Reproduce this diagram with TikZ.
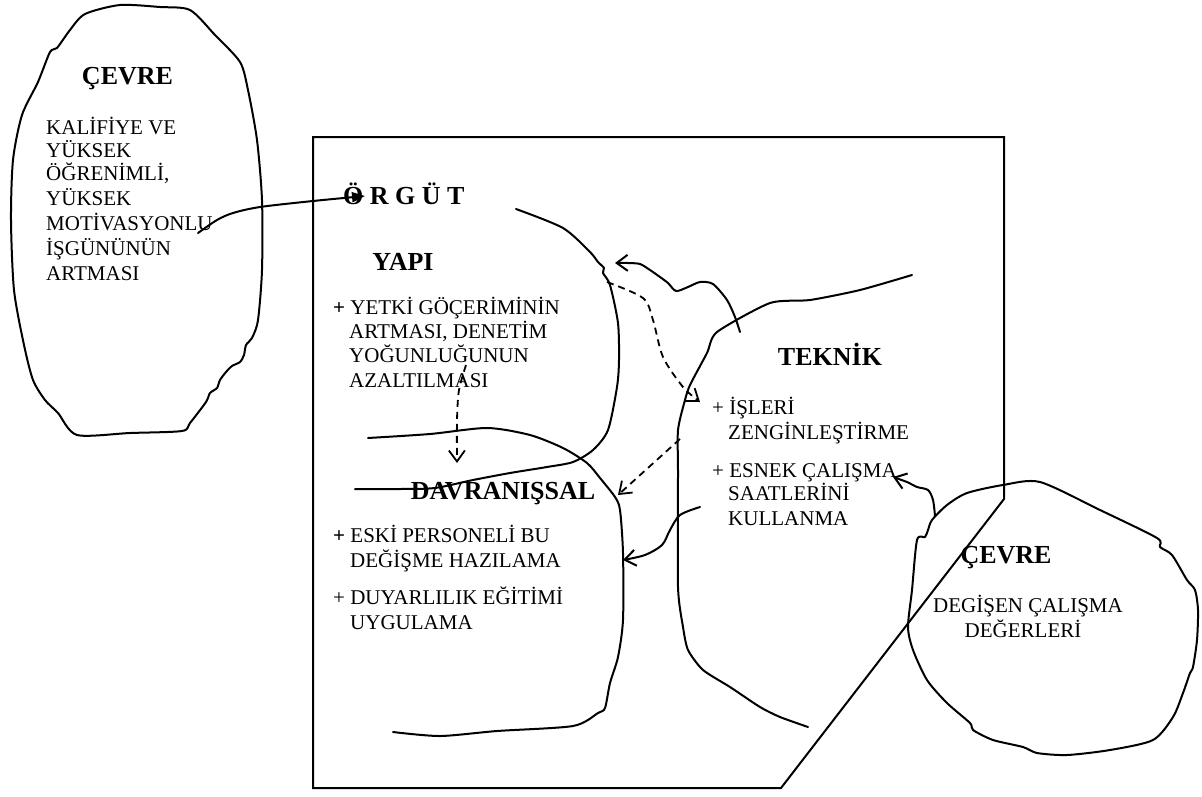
\documentclass[tikz,border=0pt]{standalone}
\usepackage{fontspec}
\setmainfont{Liberation Serif}
\usetikzlibrary{arrows.meta}
\begin{document}
\begin{tikzpicture}[x=1pt,y=-1pt,
  line/.style={line width=2pt, line join=round, line cap=round},
  dline/.style={line width=1.8pt, dash pattern=on 7pt off 5pt},
  barb/.style={-{Straight Barb[length=11pt,width=16pt]}},
  tri/.style={-{Triangle[length=13pt,width=10pt]}},
  body/.style={font=\fontsize{21}{24}\selectfont, inner sep=0pt, anchor=base west},
  title/.style={font=\fontsize{26}{30}\selectfont\bfseries, inner sep=0pt, anchor=base}]

\path[use as bounding box] (0,0) rectangle (1202,796);

% organisation frame
\draw[line, line cap=butt, line join=miter]
  (313,137) -- (1004,137) -- (1004,499) -- (781,788) -- (313,788) -- cycle;

% outer environment, left
\draw[line] plot[smooth cycle, tension=0.45] coordinates {
  (120,5) (160,7) (190,10) (215,35) (240,62) (248,90) (257,140) (262,200)
  (262,270) (258,320) (252,338) (246,345) (244,355) (240,362) (232,366)
  (226,372) (220,380) (217,388) (210,393) (206,402) (190,423) (182,431)
  (130,433) (77,435) (58,413) (45,400) (33,380) (24,345) (14,290) (11,220)
  (13,160) (22,115) (38,82) (50,52) (57,48) (70,30) (85,14)};

% outer environment, right
\draw[line] plot[smooth cycle, tension=0.45] coordinates {
  (1003,485) (1040,482) (1100,510) (1157,538) (1160,547) (1172,555)
  (1187,580) (1195,590) (1198,610) (1197,640) (1193,667) (1190,673)
  (1183,693) (1173,717) (1153,740) (1110,750) (1067,755) (1037,753)
  (1023,747) (993,740) (973,730) (970,723) (947,703) (927,680) (913,650)
  (908,627) (912,590) (917,540) (925,537) (928,530) (932,520) (947,505)
  (967,493)};

% structure region boundary
\draw[line] plot[smooth, tension=0.45] coordinates {
  (516,209) (563,228) (590,252) (598,262) (604,268) (603,273) (610,285)
  (618,323) (619,360) (617,387) (608,430) (593,450) (573,462) (547,467)
  (510,473) (473,480) (435,488) (400,489) (355,489)};

% behavioural region boundary
\draw[line] plot[smooth, tension=0.45] coordinates {
  (368,438) (430,434) (487,428) (530,435) (563,448) (587,463) (600,478)
  (615,497) (620,510) (623,553) (623,620) (618,657) (610,683) (605,708)
  (598,713) (573,726) (497,731) (440,736) (393,732)};

% technical region boundary
\draw[line] plot[smooth, tension=0.4] coordinates {
  (912,275) (860,290) (810,300) (770,303) (717,332) (707,353) (690,385)
  (685,400) (678,430) (678,473) (678,587) (683,627) (688,650) (703,670)
  (730,687) (760,707) (780,717) (808,727)};

% texts: left environment
\node[title] (cevreL) at (127.5,84) {ÇEVRE};
\node[body] (l1) at (46,134) {KALİFİYE VE};
\node[body] (l2) at (46,157) {YÜKSEK};
\node[body] (l3) at (46,180) {ÖĞRENİMLİ,};
\node[body] (l4) at (46,205) {YÜKSEK};
\node[body] (l5) at (46,230) {MOTİVASYONLU};
\node[body] (l6) at (46,255) {İŞGÜNÜNÜN};
\node[body] (l7) at (46,280) {ARTMASI};

% organisation title
\node[title, anchor=base west] (orgut) at (343,204.5) {Ö R G Ü T};

% structure
\node[title] (yapi) at (403,270.5) {YAPI};
\node[body] (y1) at (333,314) {\textbf{+} YETKİ GÖÇERİMİNİN};
\node[body] (y2) at (349,338) {ARTMASI, DENETİM};
\node[body] (y3) at (349,362) {YOĞUNLUĞUNUN};
\node[body] (y4) at (349,387) {AZALTILMASI};

% technical
\node[title] (teknik) at (830,365.5) {TEKNİK};
\node[body] (t1) at (712,414) {+ İŞLERİ};
\node[body] (t2) at (728,439) {ZENGİNLEŞTİRME};
\node[body] (t3) at (712,477) {+ ESNEK ÇALIŞMA};
\node[body] (t4) at (728,500) {SAATLERİNİ};
\node[body] (t5) at (728,525) {KULLANMA};

% behavioural
\node[title] (davr) at (503,499) {DAVRANIŞSAL};
\node[body] (d1) at (333,542) {\textbf{+} ESKİ PERSONELİ BU};
\node[body] (d2) at (350,567) {DEĞİŞME HAZILAMA};
\node[body] (d3) at (333,604) {+ DUYARLILIK EĞİTİMİ};
\node[body] (d4) at (350,629) {UYGULAMA};

% right environment
\node[title] (cevreR) at (1006,563.5) {ÇEVRE};
\node[body, anchor=base] (r1) at (1028,612) {DEGİŞEN ÇALIŞMA};
\node[body, anchor=base] (r2) at (1023,637) {DEĞERLERİ};

% connector end points
\coordinate (envL) at (198,233);
\coordinate (orgIn) at (365,196);
\coordinate (tekUp) at (740,332);
\coordinate (yapiIn) at (615,263);
\coordinate (yapiOut) at (607,282);
\coordinate (tekIn) at (700,402);
\coordinate (yapiLow) at (466,365);
\coordinate (davTop) at (457,463);
\coordinate (tekMid) at (680,439);
\coordinate (davRight) at (618,495);
\coordinate (tekLow) at (700,507);
\coordinate (davSide) at (623,560);
\coordinate (envR) at (935,516);
\coordinate (esnek) at (893,477);

% connectors
\draw[line, tri] plot[smooth, tension=0.5] coordinates {
  (envL) (217,220) (233,213) (260,207) (313,201) (orgIn)};
\draw[line, barb] plot[smooth, tension=0.45] coordinates {
  (tekUp) (735,317) (727,300) (713,284) (700,282) (688,287) (676,291)
  (668,283) (660,277) (650,270) (640,264) (628,263) (yapiIn)};
\draw[dline, barb] plot[smooth, tension=0.5] coordinates {
  (yapiOut) (643,298) (653,320) (663,357) (683,387) (tekIn)};
\draw[dline, barb] plot[smooth, tension=0.5] coordinates {
  (yapiLow) (459,390) (457,420) (davTop)};
\draw[dline, barb] (tekMid) -- (davRight);
\draw[line, barb] plot[smooth, tension=0.5] coordinates {
  (tekLow) (680,515) (670,530) (662,545) (645,555) (davSide)};
\draw[line, barb] plot[smooth, tension=0.5] coordinates {
  (envR) (933,500) (928,490) (917,487) (907,482) (esnek)};
\end{tikzpicture}
\end{document}
